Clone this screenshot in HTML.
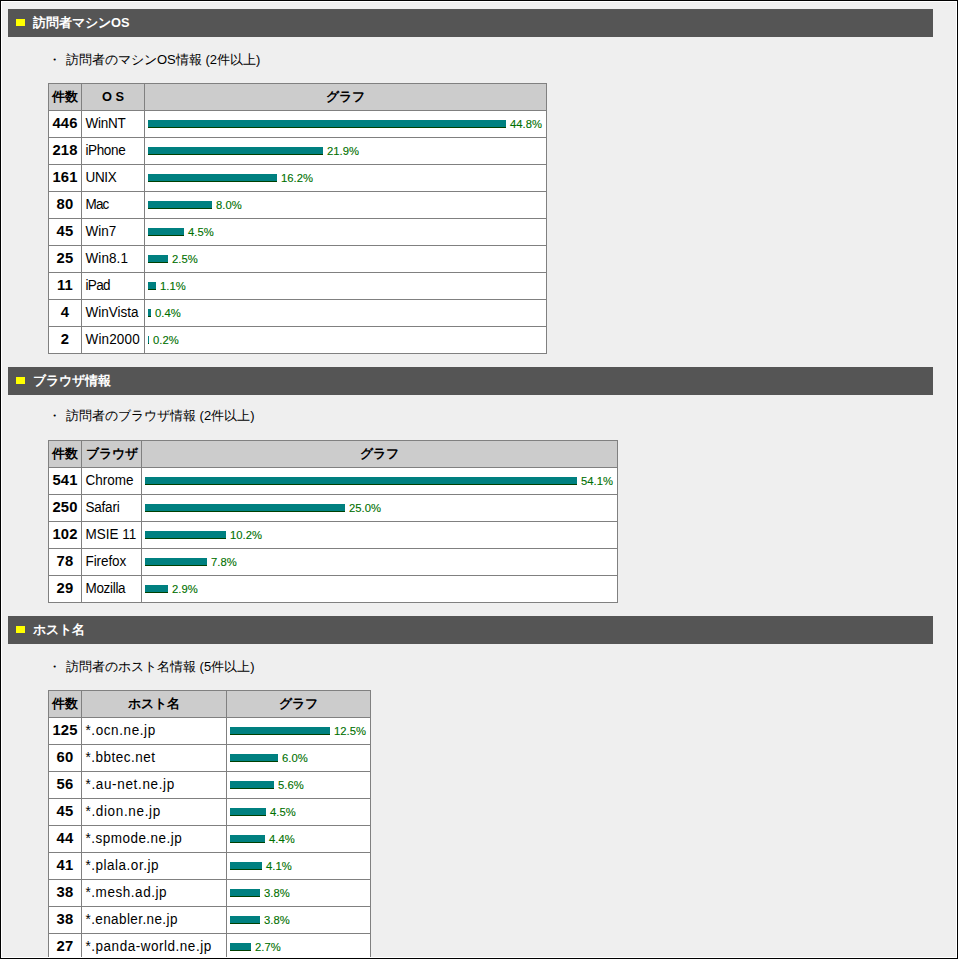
<!DOCTYPE html>
<html lang="ja">
<head>
<meta charset="utf-8">
<title>アクセス解析</title>
<style>
html,body{margin:0;padding:0;}
body{position:relative;width:958px;height:959px;overflow:hidden;background:#efefef;color:#000;font-family:"Liberation Sans",sans-serif;font-size:13px;line-height:16px;}
.frame{position:absolute;left:0;top:0;width:956px;height:957px;border:1px solid #000;box-shadow:inset 0 0 0 1px #fff;z-index:5;}
.hd{position:absolute;left:8px;width:925px;height:28px;background:#555;color:#fff;font-weight:bold;}
.hd .sq{position:absolute;left:8px;top:10px;width:9px;height:7px;background:#ff0;}
.hd .ht{position:absolute;left:25px;top:5px;font-size:12.8px;line-height:18px;white-space:nowrap;}
.sub{position:absolute;left:48px;height:20px;line-height:20px;white-space:nowrap;}
.sub .dot{position:absolute;left:0;top:0;}
.sub .st{position:absolute;left:18px;top:0;}
table{position:absolute;left:48px;border-spacing:0;border-collapse:separate;border-right:1px solid #808080;border-bottom:1px solid #808080;table-layout:fixed;}
th,td{box-sizing:border-box;height:27px;padding:0 3px;border-left:1px solid #808080;border-top:1px solid #808080;background:#fff;white-space:nowrap;overflow:hidden;}
th{background:#ccc;font-weight:bold;text-align:center;font-size:12.8px;}
td.n{font-weight:bold;text-align:center;font-size:14.8px;letter-spacing:.15px;padding:0 3px 2px;}
td.k{text-align:left;padding-left:3.5px;font-size:13.5px;}
.c1{width:33px;}
.t1 .c2{width:63px;}
.t1 .c3{width:402px;}
.t2 .c2{width:60px;}
.t2 .c3{width:476px;}
.t3 .c2{width:145px;}
.t3 .c3{width:144px;}
.gr{display:flex;align-items:center;height:26px;}
.b{display:block;box-sizing:border-box;height:8px;background:#008080;border-bottom:1px solid #004000;flex:none;}
.p{display:block;position:relative;top:1px;margin-left:4px;font-size:10px;line-height:12px;color:#007000;-webkit-text-stroke:.1px #007000;transform:scaleX(1.125);transform-origin:0 50%;}
.s{display:inline-block;transform:scaleY(1.04);transform-origin:0 78%;}
</style>
</head>
<body>
<div class="hd" style="top:9px"><span class="sq"></span><span class="ht">訪問者マシンOS</span></div>
<div class="sub" style="top:50px"><span class="dot">・</span><span class="st">訪問者のマシンOS情報 (2件以上)</span></div>
<table class="t1" style="top:83px">
<tr><th class="c1">件数</th><th class="c2">O S</th><th class="c3">グラフ</th></tr>
<tr><td class="n">446</td><td class="k" style="letter-spacing:-0.22px"><span class="s">WinNT</span></td><td class="g"><div class="gr"><span class="b" style="width:358px"></span><span class="p">44.8%</span></div></td></tr>
<tr><td class="n">218</td><td class="k" style="letter-spacing:-0.38px"><span class="s">iPhone</span></td><td class="g"><div class="gr"><span class="b" style="width:175px"></span><span class="p">21.9%</span></div></td></tr>
<tr><td class="n">161</td><td class="k" style="letter-spacing:-0.33px"><span class="s">UNIX</span></td><td class="g"><div class="gr"><span class="b" style="width:129px"></span><span class="p">16.2%</span></div></td></tr>
<tr><td class="n">80</td><td class="k" style="letter-spacing:-0.85px"><span class="s">Mac</span></td><td class="g"><div class="gr"><span class="b" style="width:64px"></span><span class="p">8.0%</span></div></td></tr>
<tr><td class="n">45</td><td class="k" style="letter-spacing:-0.03px"><span class="s">Win7</span></td><td class="g"><div class="gr"><span class="b" style="width:36px"></span><span class="p">4.5%</span></div></td></tr>
<tr><td class="n">25</td><td class="k" style="letter-spacing:0.08px"><span class="s">Win8.1</span></td><td class="g"><div class="gr"><span class="b" style="width:20px"></span><span class="p">2.5%</span></div></td></tr>
<tr><td class="n">11</td><td class="k" style="letter-spacing:-0.63px"><span class="s">iPad</span></td><td class="g"><div class="gr"><span class="b" style="width:8px"></span><span class="p">1.1%</span></div></td></tr>
<tr><td class="n">4</td><td class="k" style="letter-spacing:0.00px"><span class="s">WinVista</span></td><td class="g"><div class="gr"><span class="b" style="width:3px"></span><span class="p">0.4%</span></div></td></tr>
<tr><td class="n">2</td><td class="k" style="letter-spacing:0.15px"><span class="s">Win2000</span></td><td class="g"><div class="gr"><span class="b" style="width:1px"></span><span class="p">0.2%</span></div></td></tr>
</table>

<div class="hd" style="top:367px"><span class="sq"></span><span class="ht">ブラウザ情報</span></div>
<div class="sub" style="top:406px"><span class="dot">・</span><span class="st">訪問者のブラウザ情報 (2件以上)</span></div>
<table class="t2" style="top:440px">
<tr><th class="c1">件数</th><th class="c2">ブラウザ</th><th class="c3">グラフ</th></tr>
<tr><td class="n">541</td><td class="k" style="letter-spacing:-0.02px"><span class="s">Chrome</span></td><td class="g"><div class="gr"><span class="b" style="width:432px"></span><span class="p">54.1%</span></div></td></tr>
<tr><td class="n">250</td><td class="k" style="letter-spacing:-0.22px"><span class="s">Safari</span></td><td class="g"><div class="gr"><span class="b" style="width:200px"></span><span class="p">25.0%</span></div></td></tr>
<tr><td class="n">102</td><td class="k" style="letter-spacing:-0.02px"><span class="s">MSIE 11</span></td><td class="g"><div class="gr"><span class="b" style="width:81px"></span><span class="p">10.2%</span></div></td></tr>
<tr><td class="n">78</td><td class="k" style="letter-spacing:-0.08px"><span class="s">Firefox</span></td><td class="g"><div class="gr"><span class="b" style="width:62px"></span><span class="p">7.8%</span></div></td></tr>
<tr><td class="n">29</td><td class="k" style="letter-spacing:-0.32px"><span class="s">Mozilla</span></td><td class="g"><div class="gr"><span class="b" style="width:23px"></span><span class="p">2.9%</span></div></td></tr>
</table>

<div class="hd" style="top:616px"><span class="sq"></span><span class="ht">ホスト名</span></div>
<div class="sub" style="top:657px"><span class="dot">・</span><span class="st">訪問者のホスト名情報 (5件以上)</span></div>
<table class="t3" style="top:690px">
<tr><th class="c1">件数</th><th class="c2">ホスト名</th><th class="c3">グラフ</th></tr>
<tr><td class="n">125</td><td class="k" style="letter-spacing:0.59px"><span class="s">*.ocn.ne.jp</span></td><td class="g"><div class="gr"><span class="b" style="width:100px"></span><span class="p">12.5%</span></div></td></tr>
<tr><td class="n">60</td><td class="k" style="letter-spacing:0.50px"><span class="s">*.bbtec.net</span></td><td class="g"><div class="gr"><span class="b" style="width:48px"></span><span class="p">6.0%</span></div></td></tr>
<tr><td class="n">56</td><td class="k" style="letter-spacing:0.65px"><span class="s">*.au-net.ne.jp</span></td><td class="g"><div class="gr"><span class="b" style="width:44px"></span><span class="p">5.6%</span></div></td></tr>
<tr><td class="n">45</td><td class="k" style="letter-spacing:0.65px"><span class="s">*.dion.ne.jp</span></td><td class="g"><div class="gr"><span class="b" style="width:36px"></span><span class="p">4.5%</span></div></td></tr>
<tr><td class="n">44</td><td class="k" style="letter-spacing:0.48px"><span class="s">*.spmode.ne.jp</span></td><td class="g"><div class="gr"><span class="b" style="width:35px"></span><span class="p">4.4%</span></div></td></tr>
<tr><td class="n">41</td><td class="k" style="letter-spacing:0.51px"><span class="s">*.plala.or.jp</span></td><td class="g"><div class="gr"><span class="b" style="width:32px"></span><span class="p">4.1%</span></div></td></tr>
<tr><td class="n">38</td><td class="k" style="letter-spacing:0.55px"><span class="s">*.mesh.ad.jp</span></td><td class="g"><div class="gr"><span class="b" style="width:30px"></span><span class="p">3.8%</span></div></td></tr>
<tr><td class="n">38</td><td class="k" style="letter-spacing:0.40px"><span class="s">*.enabler.ne.jp</span></td><td class="g"><div class="gr"><span class="b" style="width:30px"></span><span class="p">3.8%</span></div></td></tr>
<tr><td class="n">27</td><td class="k" style="letter-spacing:0.52px"><span class="s">*.panda-world.ne.jp</span></td><td class="g"><div class="gr"><span class="b" style="width:21px"></span><span class="p">2.7%</span></div></td></tr>
</table>

<div class="frame"></div>
</body>
</html>
